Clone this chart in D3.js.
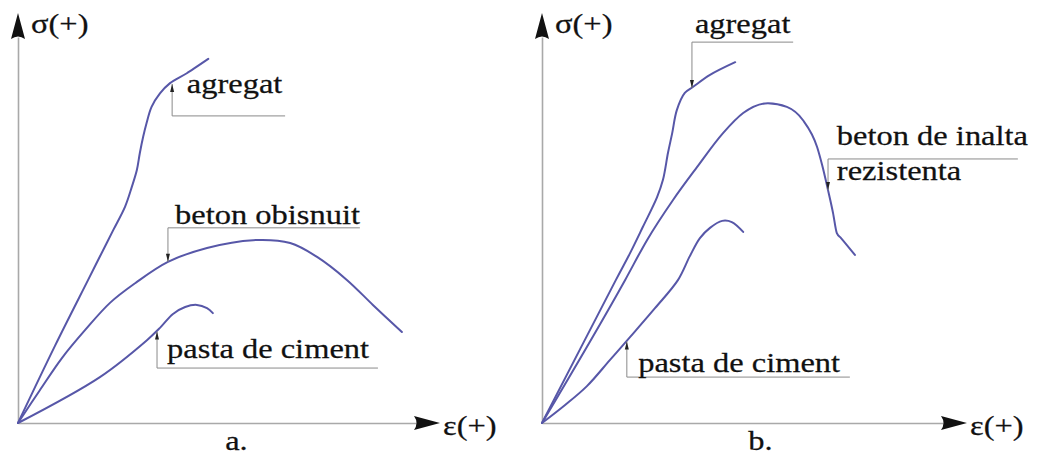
<!DOCTYPE html>
<html>
<head>
<meta charset="utf-8">
<script src="https://cdn.jsdelivr.net/npm/d3@7/dist/d3.min.js"></script>
<style>
  html, body { margin: 0; padding: 0; background: #fff; }
  svg { display: block; }
</style>
</head>
<body>
<svg id="chart" width="1037" height="457"></svg>
<script>
// Stress–strain diagrams, qualitative units: strain ε 0–100, stress σ 0–100.

// Panel a. — normal concrete and its components
const aggregateA = [[0,0],[8.8,18.8],[16.7,34.9],[19.5,40.6],[22.7,47.1],[25.5,52.8],[27.1,57.6],[28.3,61.7],[29.0,65.8],[29.8,69.8],[30.6,73.1],[31.8,77.1],[33.8,80.4],[36.2,82.9],[40.2,85.3],[45.3,88.8]];
const concreteA  = [[0,0],[5.2,8.0],[10.5,15.9],[16.0,22.7],[21.9,29.3],[27.9,34.1],[35.7,39.3],[45.0,42.7],[56.0,44.6],[64.8,43.9],[71.2,40.5],[78.3,34.9],[84.5,28.8],[91.4,22.2]];
const pasteA     = [[0,0],[19.5,11.2],[30.7,20.2],[33.8,23.2],[36.9,26.6],[39.8,28.3],[42.6,28.8],[45.0,28.0],[46.4,26.8]];

// Panel b. — high-strength concrete and its components
const aggregateB = [[0,0],[17.6,34.9],[21.0,41.5],[24.0,47.8],[27.4,55.1],[28.8,59.3],[30.0,65.9],[31.0,70.7],[32.1,76.3],[34.0,80.5],[36.0,82.0],[40.0,84.9],[46.0,88.0]];
const concreteB  = [[0,0],[19.8,34.9],[25.0,44.6],[31.2,54.4],[36.9,62.4],[43.1,70.7],[47.9,75.6],[53.8,78.0],[58.3,77.1],[62.1,73.9],[65.5,67.3],[66.7,62.9],[68.1,56.8],[69.3,51.2],[70.2,46.3],[71.2,45.1],[74.5,41.0]];
const pasteB     = [[0,0],[5.5,4.4],[10.7,9.0],[16.2,15.4],[21.0,21.0],[26.9,28.0],[32.4,34.9],[35.2,40.7],[37.6,45.1],[40.0,47.6],[42.9,49.3],[45.2,49.0],[47.9,46.6]];

// Texts
const axisLabelY = "σ(+)";
const axisLabelX = "ε(+)";
const panelTitles = ["a.", "b."];
const labelsA = [["agregat"], ["beton obisnuit"], ["pasta de ciment"]];
const labelsB = [["agregat"], ["beton de inalta", "rezistenta"], ["pasta de ciment"]];

// Smooth interpolation for most curves; the post-peak branch of high-strength
// concrete keeps its sharp break, so it uses a monotone curve instead.
const smooth = d3.curveCatmullRom.alpha(0.5);
const sharp = d3.curveMonotoneX;

// Layout of the two panels (pixels)
const panels = [
  { ox: 18,  oy: 423, axisLen: 422, title: panelTitles[0],
    curves: [aggregateA, concreteA, pasteA], interp: [smooth, smooth, smooth], labels: labelsA,
    // leader lines in data units: tip on curve, elbow level, end of shelf, text start, first baseline
    notes: [
      { tip: [36.7, 82.7], elbow: 74.9, end: 63.6, tx: 40.2, ty: 80.5 },
      { tip: [35.7, 39.3], elbow: 47.6, end: 81.4, tx: 37.4, ty: 48.5 },
      { tip: [33.1, 22.3], elbow: 13.4, end: 85.7, tx: 35.5, ty: 15.9 }
    ] },
  { ox: 542, oy: 423, axisLen: 425, title: panelTitles[1],
    curves: [aggregateB, concreteB, pasteB], interp: [smooth, sharp, smooth], labels: labelsB,
    notes: [
      { tip: [35.7, 81.7], elbow: 92.9, end: 59.8, tx: 36.4, ty: 95.1 },
      { tip: [68.1, 56.8], elbow: 64.4, end: 113.3, tx: 70.2, ty: 67.8 },
      { tip: [20.2, 19.9], elbow: 11.2, end: 73.3, tx: 22.9, ty: 12.4 }
    ] }
];

const FONT = "'Liberation Serif', 'Times New Roman', serif";
const FONT_SIZE = 28;
const STRETCH = 1.16;
const CURVE_COLOR = "#5757a8";
const AXIS_COLOR = "#a9a9a9";
const LEADER_COLOR = "#8a8a8a";
const TEXT_COLOR = "#111";
const ARROW_LEN = 26, ARROW_HALF = 7;

const svg = d3.select("#chart");

function stretchedText(g, x, y, str, anchor) {
  return g.append("text")
    .attr("transform", `translate(${x},${y}) scale(${STRETCH},1)`)
    .attr("text-anchor", anchor || "start")
    .attr("font-family", FONT)
    .attr("font-size", FONT_SIZE)
    .attr("fill", TEXT_COLOR)
    .attr("stroke", TEXT_COLOR)
    .attr("stroke-width", 0.25)
    .text(str);
}

panels.forEach(p => {
  const g = svg.append("g");
  const x = d3.scaleLinear().domain([0, 100]).range([p.ox, p.ox + 420]);
  const y = d3.scaleLinear().domain([0, 100]).range([p.oy, 13]);

  // x axis: domain line only, up to the arrow base
  const xAxisScale = d3.scaleLinear().domain([0, 1]).range([p.ox, p.ox + p.axisLen - ARROW_LEN + 2]);
  g.append("g")
    .attr("transform", `translate(0,${p.oy})`)
    .call(d3.axisBottom(xAxisScale).tickValues([]).tickSizeOuter(0))
    .call(a => a.select(".domain").attr("stroke", AXIS_COLOR).attr("stroke-width", 1.6));

  // y axis
  const yAxisScale = d3.scaleLinear().domain([0, 1]).range([p.oy, 13 + ARROW_LEN - 2]);
  g.append("g")
    .attr("transform", `translate(${p.ox},0)`)
    .call(d3.axisLeft(yAxisScale).tickValues([]).tickSizeOuter(0))
    .call(a => a.select(".domain").attr("stroke", AXIS_COLOR).attr("stroke-width", 1.6));

  // axis arrowheads
  const tipX = p.ox + p.axisLen;
  g.append("path")
    .attr("d", `M${tipX},${p.oy} L${tipX - ARROW_LEN},${p.oy - ARROW_HALF} Q${tipX - ARROW_LEN + 5},${p.oy} ${tipX - ARROW_LEN},${p.oy + ARROW_HALF} Z`)
    .attr("fill", "#111");
  const tipY = 13;
  g.append("path")
    .attr("d", `M${p.ox},${tipY} L${p.ox - ARROW_HALF},${tipY + ARROW_LEN} Q${p.ox},${tipY + ARROW_LEN - 5} ${p.ox + ARROW_HALF},${tipY + ARROW_LEN} Z`)
    .attr("fill", "#111");

  // axis labels
  stretchedText(g, p.ox + 13, 33, axisLabelY);
  stretchedText(g, tipX + 3, 435, axisLabelX);

  // panel title
  stretchedText(g, x(52), 450, p.title, "middle");

  // curves
  p.curves.forEach((data, i) => {
    const line = d3.line()
      .x(d => x(d[0]))
      .y(d => y(d[1]))
      .curve(p.interp[i]);
    g.append("path")
      .attr("class", "curve")
      .attr("d", line(data))
      .attr("fill", "none")
      .attr("stroke", CURVE_COLOR)
      .attr("stroke-width", 2)
      .attr("stroke-linejoin", "round")
      .attr("stroke-linecap", "round");
  });

  // leader lines with small arrowheads and labels
  p.notes.forEach((n, i) => {
    const tx = x(n.tip[0]), ty = y(n.tip[1]);
    const ey = y(n.elbow), ex = x(n.end);
    g.append("path")
      .attr("d", `M${tx},${ty} L${tx},${ey} L${ex},${ey}`)
      .attr("fill", "none")
      .attr("stroke", LEADER_COLOR)
      .attr("stroke-width", 1);
    const dir = ey > ty ? 1 : -1; // +1: shelf below tip, arrow points up
    g.append("path")
      .attr("d", `M${tx},${ty} L${tx - 2},${ty + dir * 8} L${tx + 2},${ty + dir * 8} Z`)
      .attr("fill", "#222");
    p.labels[i].forEach((s, k) => {
      stretchedText(g, x(n.tx), y(n.ty) + k * 35, s);
    });
  });
});
</script>
</body>
</html>
